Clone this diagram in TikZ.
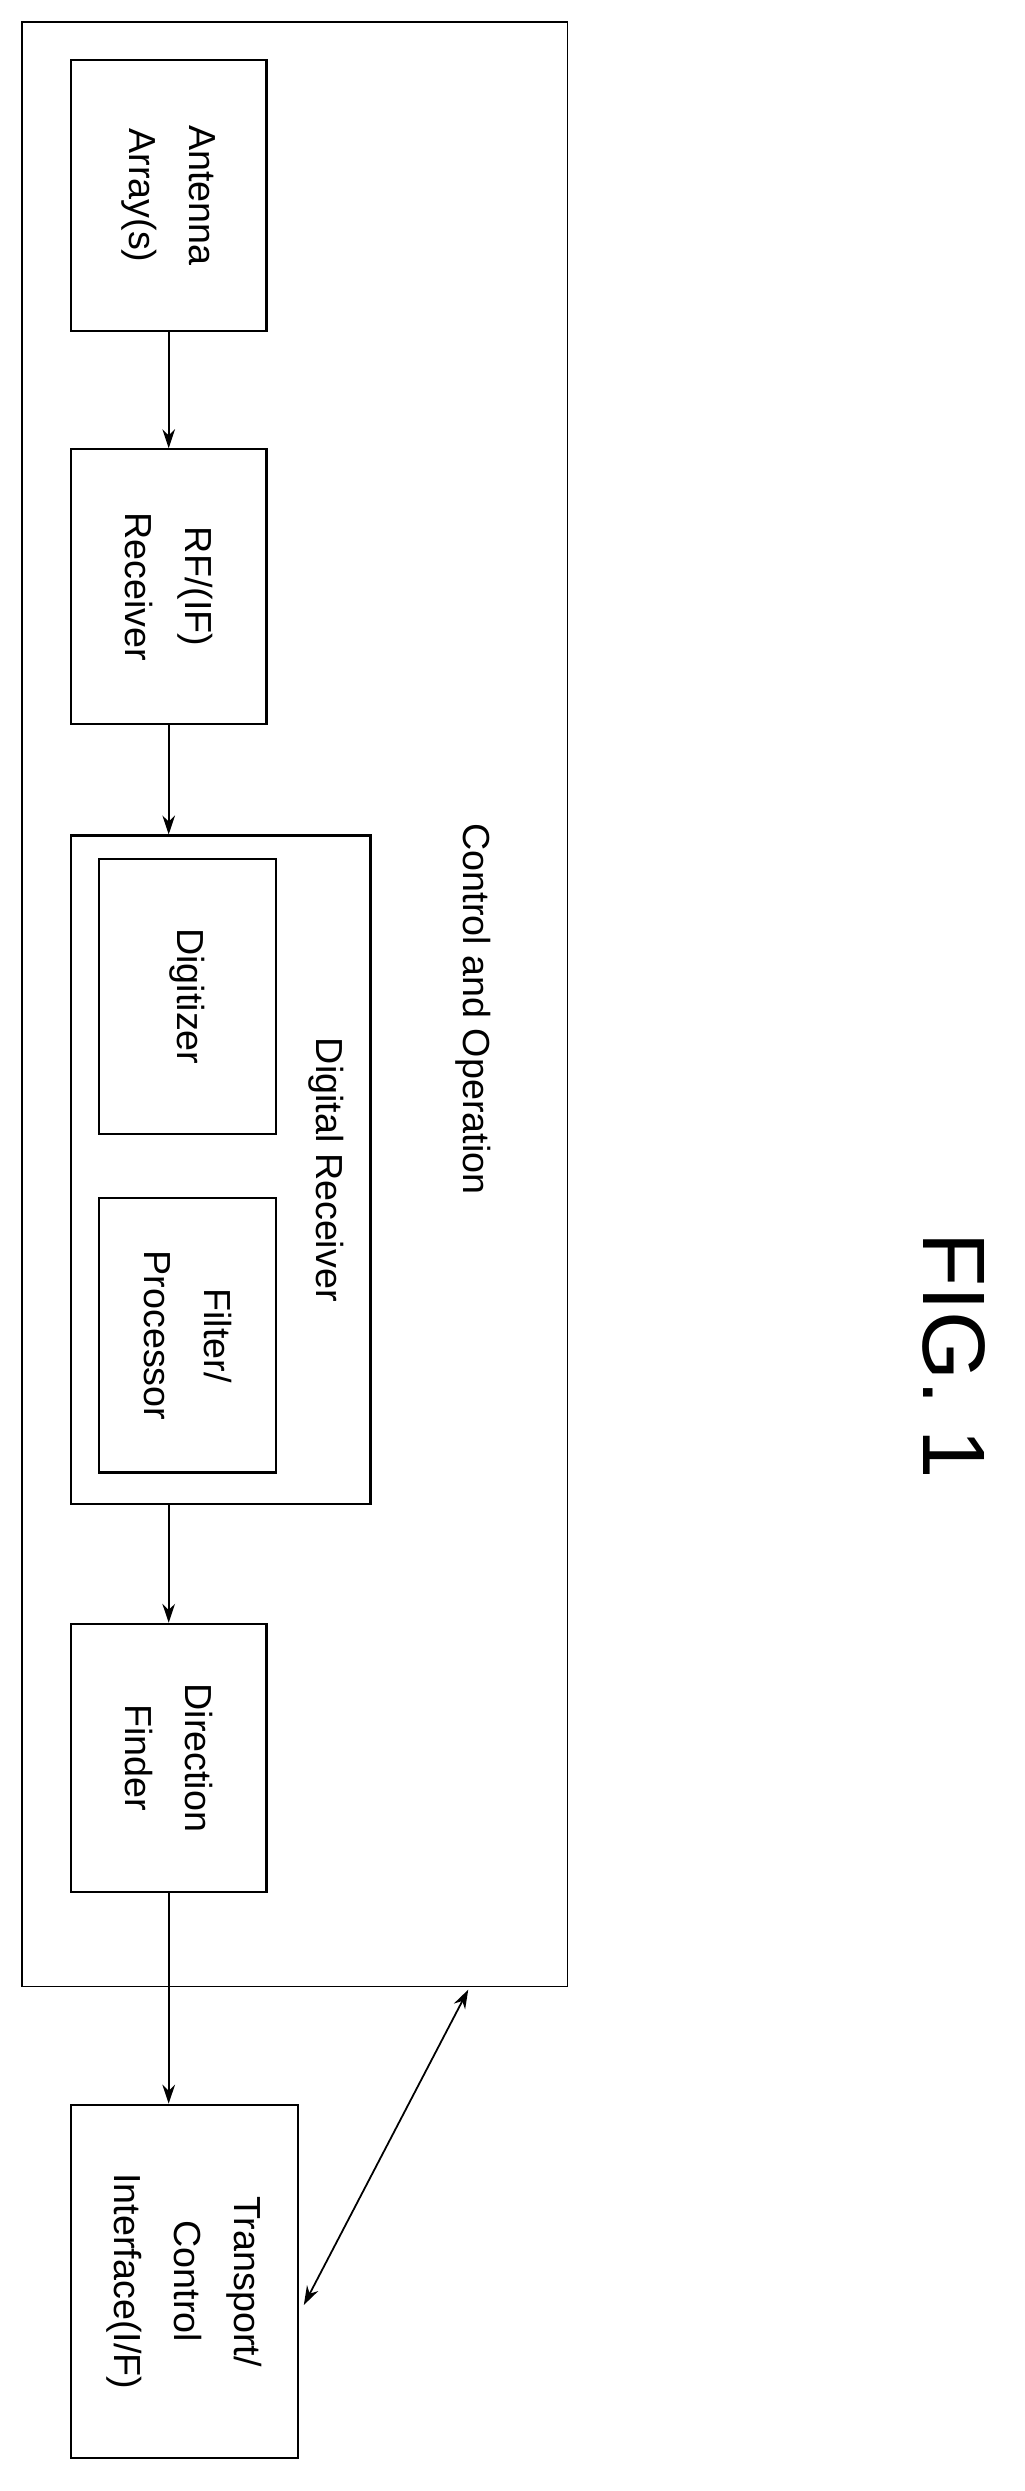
\documentclass[tikz,border=0pt]{standalone}
\usepackage{fontspec}
\setmainfont{Liberation Sans}
\usetikzlibrary{arrows.meta, positioning, calc}

\begin{document}
\begin{tikzpicture}[
    x=0.025cm, y=-0.025cm,
    >={Stealth[length=3mm, width=2mm]},
    line width=0.8pt,
    box/.style={
      rectangle,
      draw,
      line width=1pt,
      align=center,
      rotate=-90,
      font=\fontsize{17}{27}\selectfont
    },
    arrowstyle/.style={
      ->,
      line width=0.8pt
    }
]
\useasboundingbox (0,0) rectangle (650,1580);

% 1. NODES
\draw[line width=0.8pt] (14,14) rectangle (360,1260);
\node[rotate=-90, font=\fontsize{17}{20}\selectfont] (ctrl) at (300,640) {Control and Operation};

\node[box, minimum width=4.3cm, minimum height=3.1cm] (antenna) at (107,124) {Antenna\\Array(s)};
\node[box, minimum width=4.35cm, minimum height=3.1cm] (rf) at (107,372) {RF/(IF)\\Receiver};

\node[box, minimum width=10.6cm, minimum height=4.75cm] (digital) at (140,742) {};
\node[rotate=-90, font=\fontsize{17}{20}\selectfont] (diglabel) at (207,742) {Digital Receiver};
\node[box, minimum width=4.35cm, minimum height=2.8cm] (digitizer) at (119,632) {Digitizer};
\node[box, minimum width=4.35cm, minimum height=2.8cm] (filter) at (119,847) {Filter/\\Processor};

\node[box, minimum width=4.25cm, minimum height=3.1cm] (finder) at (107,1115) {Direction\\Finder};
\node[box, minimum width=5.6cm, minimum height=3.6cm] (transport) at (117,1447) {Transport/\\Control\\Interface(I/F)};

\coordinate (corner) at (297,1262);

\node[rotate=-90, font=\fontsize{40}{44}\selectfont] (fig) at (605,860) {FIG. 1};

% 2. ARROWS
\draw[arrowstyle] (antenna.east) -- (rf.west);
\draw[arrowstyle] (rf.east) -- (rf.east |- digital.west);
\draw[arrowstyle] (finder.west |- digital.east) -- (finder.west);
\draw[arrowstyle] (finder.east) -- (transport.west -| finder.east);
\draw[<->] ($(transport.north)+(3,15)$) -- (corner);

\end{tikzpicture}
\end{document}
